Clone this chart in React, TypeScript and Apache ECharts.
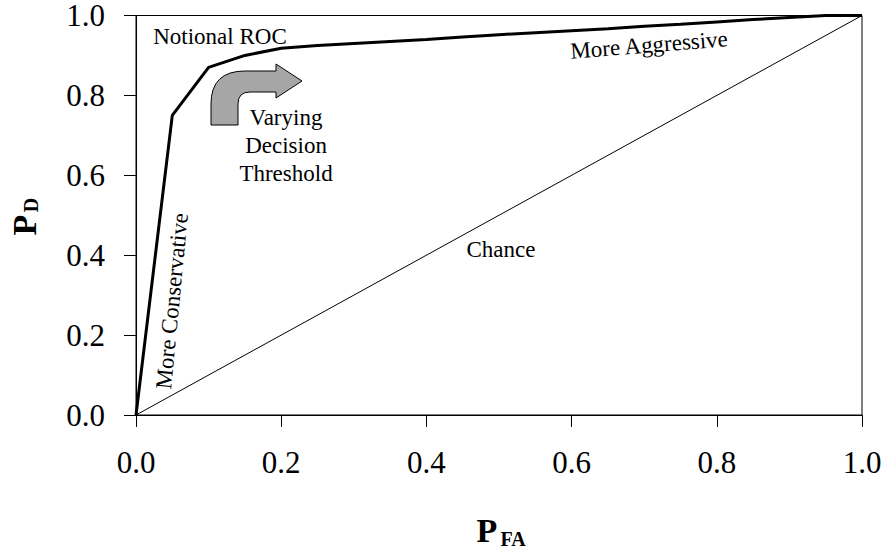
import React, { useEffect, useRef } from "react";
import * as echarts from "echarts";

const rocX = [0, 0.05, 0.1, 0.15, 0.2, 0.25, 0.3, 0.35, 0.4, 0.45, 0.5, 0.55, 0.6, 0.65, 0.7, 0.75, 0.8, 0.85, 0.9, 0.95, 1.0];
const rocY = [0, 0.75, 0.87, 0.9, 0.918, 0.925, 0.93, 0.935, 0.94, 0.946, 0.952, 0.957, 0.962, 0.967, 0.973, 0.978, 0.984, 0.99, 0.995, 1.0, 1.0];
const chanceX = [0, 1];
const chanceY = [0, 1];
const tickValues = [0, 0.2, 0.4, 0.6, 0.8, 1.0];

const FONT = "Liberation Serif";
const ARROW_D = "M0,61 L27,61 L27,40 Q27,28 39,28 L65,28 L65,34 L91,17 L65,0 L65,7 L34,7 Q0,7 0,40 Z";

let registered = false;

export default function App() {
  const ref = useRef<HTMLDivElement>(null);
  useEffect(() => {
    if (!registered) {
      echarts.graphic.registerShape("logo", echarts.graphic.extendPath(ARROW_D, {}));
      registered = true;
    }
    const chart = echarts.init(ref.current!, null, { renderer: "svg" });
    const fmt = (v: number) => (tickValues.includes(Math.round(v * 10) / 10) ? v.toFixed(1) : "");
    const txt = (text: string, x: number, y: number, extra: any = {}) => ({
      type: "text",
      x,
      y,
      rotation: extra.rotation || 0,
      style: {
        text,
        fill: "#000",
        fontFamily: FONT,
        fontSize: extra.fontSize || 23,
        fontWeight: extra.fontWeight || "normal",
        align: "center",
        verticalAlign: "middle",
      },
      z: 100,
    });
    chart.setOption({
      animation: false,
      backgroundColor: "#fff",
      textStyle: { fontFamily: FONT },
      grid: { left: 136, top: 15, width: 726, height: 400, show: true, borderColor: "#000", borderWidth: 1, containLabel: false },
      xAxis: {
        type: "value",
        min: 0,
        max: 1,
        interval: 0.2,
        axisLine: { show: true, lineStyle: { color: "#000", width: 1 } },
        axisTick: { show: true, length: 12, lineStyle: { color: "#000", width: 1 } },
        axisLabel: { margin: 35, fontSize: 31, lineHeight: 24, fontFamily: FONT, color: "#000", formatter: fmt },
        splitLine: { show: false },
      },
      yAxis: {
        type: "value",
        min: 0,
        max: 1,
        interval: 0.2,
        axisLine: { show: true, lineStyle: { color: "#000", width: 1 } },
        axisTick: { show: true, length: 12, lineStyle: { color: "#000", width: 1 } },
        axisLabel: { margin: 31, fontSize: 31, lineHeight: 24, fontFamily: FONT, color: "#000", formatter: fmt },
        splitLine: { show: false },
      },
      series: [
        {
          type: "line",
          name: "Chance",
          data: chanceX.map((x, i) => [x, chanceY[i]]),
          showSymbol: false,
          lineStyle: { color: "#000", width: 1 },
        },
        {
          type: "line",
          name: "Notional ROC",
          data: rocX.map((x, i) => [x, rocY[i]]),
          showSymbol: false,
          lineStyle: { color: "#000", width: 3 },
        },
      ],
      graphic: [
        { type: "logo", x: 211, y: 64, style: { fill: "#a6a6a6", stroke: "#000", lineWidth: 1 }, z: 100 },
        txt("Notional ROC", 220, 36),
        txt("Varying", 286, 117),
        txt("Decision", 286, 145),
        txt("Threshold", 286, 173),
        txt("More Aggressive", 649, 45, { rotation: 0.08 }),
        txt("More Conservative", 172, 301, { rotation: 1.475 }),
        txt("Chance", 501, 249),
        txt("P", 487, 530, { fontSize: 34, fontWeight: "bold" }),
        txt("FA", 513, 539, { fontSize: 20, fontWeight: "bold" }),
        txt("P", 24, 225, { fontSize: 34, fontWeight: "bold", rotation: Math.PI / 2 }),
        txt("D", 31, 205, { fontSize: 20, fontWeight: "bold", rotation: Math.PI / 2 }),
      ],
    });
    return () => chart.dispose();
  }, []);
  return <div ref={ref} style={{ position: "absolute", left: 0, top: 0, width: 888, height: 560, background: "#fff" }} />;
}
